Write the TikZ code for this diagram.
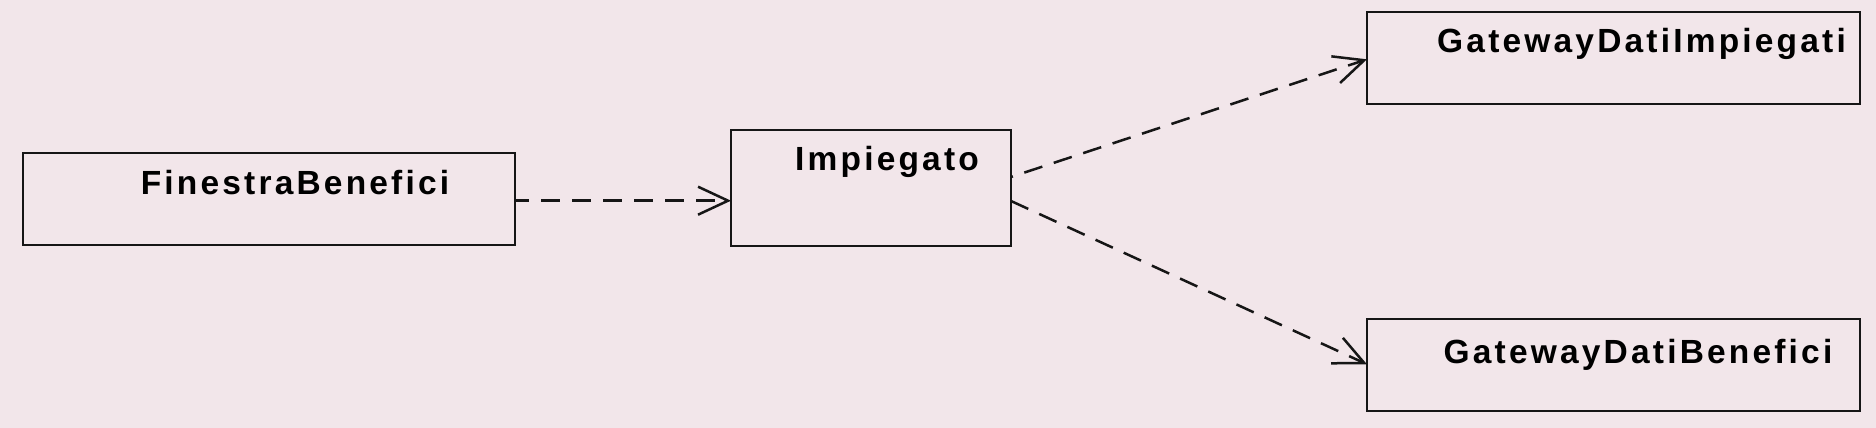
\documentclass[tikz,border=0pt]{standalone}
\usepackage{fontspec}
\newfontfamily\umlfont{Liberation Sans}[LetterSpace=9.5]
\usetikzlibrary{arrows.meta}
\definecolor{bgpink}{RGB}{242,230,234}
\definecolor{inkline}{RGB}{22,22,22}
\tikzset{
  classbox/.style={draw=inkline, line width=2.8pt, fill=bgpink, rectangle, inner sep=0pt, outer sep=0pt},
  classname/.style={anchor=base, inner sep=0pt, text=black, font=\umlfont\bfseries\fontsize{33.5}{40}\selectfont},
  depend/.style={draw=inkline, line width=2.5pt, dash pattern=on 19pt off 12pt,
    -{Straight Barb[length=30pt, width=28pt, line width=2.5pt]}}
}
\begin{document}
\begin{tikzpicture}[x=1pt, y=-1pt]
\useasboundingbox (0,0) rectangle (1876,428);
\fill[bgpink] (0,0) rectangle (1876,428);
% class boxes
\node[classbox, minimum width=492pt, minimum height=92pt] (fb) at (269,199) {};
\node[classbox, minimum width=280pt, minimum height=116pt] (imp) at (871,188) {};
\node[classbox, minimum width=493pt, minimum height=92pt] (gdi) at (1613.5,58) {};
\node[classbox, minimum width=493pt, minimum height=92pt] (gdb) at (1613.5,365) {};
% class names
\node[classname] (fbT) at (295,194.3) {FinestraBenefici};
\node[classname] (impT) at (887,170.7) {Impiegato};
\node[classname] (gdiT) at (1641.5,52.3) {GatewayDatiImpiegati};
\node[classname] (gdbT) at (1638,363.3) {GatewayDatiBenefici};
% dependencies
\draw[depend, dash phase=5pt] ([yshift=-1.7pt]fb.east) -- ([yshift=-12.7pt]imp.west);
\draw[depend, dash phase=17pt] ([yshift=11pt]imp.east) -- ([yshift=-1.3pt]gdi.west);
\draw[depend] ([yshift=-13pt]imp.east) -- ([yshift=0.7pt]gdb.west);
\end{tikzpicture}
\end{document}
